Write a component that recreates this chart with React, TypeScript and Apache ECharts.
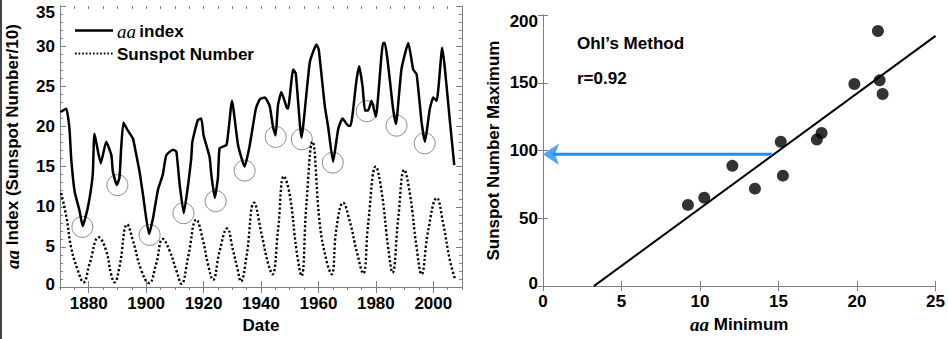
import React, { useEffect, useRef } from "react";
import * as echarts from "echarts";

// ---- Left panel: aa index and sunspot number (/10) vs year ----
const aaYears = [1870.1, 1872.2, 1873.3, 1873.9, 1875.1, 1876.8, 1877.9, 1879.7, 1881.4, 1882.0, 1884.2, 1886.1, 1887.9, 1888.4, 1889.8, 1890.7, 1891.3, 1892.1, 1893.6, 1895.4, 1896.6, 1897.7, 1898.9, 1901.0, 1902.4, 1904.1, 1905.8, 1907.0, 1909.3, 1910.5, 1911.7, 1913.1, 1914.6, 1915.7, 1916.1, 1918.0, 1919.2, 1920.0, 1922.1, 1922.7, 1923.9, 1925.0, 1925.6, 1928.0, 1929.9, 1932.0, 1934.3, 1936.1, 1938.2, 1939.6, 1941.3, 1943.0, 1944.2, 1945.1, 1945.9, 1947.1, 1948.9, 1949.4, 1951.2, 1952.1, 1954.1, 1957.0, 1959.3, 1960.1, 1962.2, 1963.4, 1965.1, 1966.9, 1968.4, 1970.4, 1971.2, 1973.3, 1974.2, 1975.4, 1976.2, 1977.3, 1978.5, 1980.0, 1982.5, 1983.1, 1986.0, 1987.0, 1988.9, 1991.3, 1993.0, 1994.2, 1995.9, 1997.1, 1998.8, 2000.0, 2001.2, 2003.1, 2005.8, 2007.3];
const aaValues = [21.8, 22.2, 19.7, 16.0, 11.9, 9.5, 7.6, 9.9, 14.0, 19.1, 15.4, 18.1, 16.4, 14.4, 12.7, 13.6, 17.3, 20.5, 19.5, 18.5, 16.4, 14.4, 11.5, 6.6, 8.6, 12.1, 14.0, 16.4, 17.1, 16.9, 12.7, 9.2, 12.7, 16.0, 18.1, 20.8, 21.0, 18.9, 16.2, 14.0, 11.1, 13.6, 17.3, 17.7, 23.2, 17.7, 15.0, 17.7, 22.2, 23.4, 23.6, 22.6, 19.9, 18.9, 22.6, 24.3, 22.4, 22.2, 27.1, 26.6, 18.6, 28.0, 30.2, 29.6, 22.6, 19.9, 15.6, 19.7, 21.0, 20.1, 20.1, 25.9, 27.5, 24.9, 22.0, 22.0, 23.2, 21.2, 30.4, 30.4, 22.2, 20.3, 27.1, 30.4, 27.1, 26.5, 20.6, 18.1, 22.2, 23.6, 23.2, 29.8, 20.6, 15.2];

const ssnYears = [1870.4, 1872.2, 1873.9, 1876.2, 1878.2, 1880.3, 1883.5, 1886.1, 1887.8, 1889.0, 1890.7, 1893.4, 1895.4, 1898.3, 1901.0, 1903.5, 1905.8, 1908.2, 1910.5, 1912.3, 1914.6, 1917.5, 1919.8, 1921.5, 1923.3, 1925.6, 1928.2, 1930.3, 1931.8, 1933.0, 1934.9, 1937.6, 1940.2, 1942.5, 1944.0, 1945.9, 1948.0, 1950.0, 1952.4, 1954.1, 1955.8, 1957.9, 1960.5, 1962.8, 1964.6, 1966.3, 1968.6, 1970.9, 1973.3, 1975.6, 1977.3, 1980.0, 1982.0, 1984.3, 1985.8, 1987.8, 1989.9, 1991.9, 1994.2, 1995.9, 1998.2, 2001.2, 2003.5, 2005.8, 2007.6];
const ssnValues = [11.7, 8.8, 4.9, 2.1, 0.6, 2.9, 6.2, 4.5, 1.6, 0.6, 2.5, 7.8, 5.8, 2.1, 0.5, 2.9, 6.0, 4.5, 2.1, 0.4, 3.7, 8.4, 5.8, 2.9, 0.9, 4.5, 7.3, 4.5, 2.3, 0.7, 3.7, 10.5, 6.6, 2.9, 1.6, 7.0, 13.8, 11.5, 4.5, 1.4, 10.3, 18.1, 7.8, 3.3, 1.6, 7.4, 10.5, 8.2, 4.5, 1.7, 7.8, 15.0, 11.9, 4.9, 1.8, 8.6, 14.6, 11.5, 4.9, 1.6, 7.0, 11.1, 7.8, 3.3, 1.0];

const minYears = [1877.8, 1890.0, 1901.2, 1913.0, 1924.2, 1934.3, 1945.1, 1954.2, 1965.0, 1976.8, 1987.2, 1997.0];
const minValues = [7.5, 12.7, 6.5, 9.2, 10.7, 14.5, 18.7, 18.4, 15.5, 21.9, 20.1, 17.9];

const yearTickLabels = [1880, 1900, 1920, 1940, 1960, 1980, 2000];
const aaTickLabels = [0, 5, 10, 15, 20, 25, 30, 35];
const legendNames = ["aa index", "Sunspot Number"];

// ---- Right panel: Ohl's method ----
const aaMinimum = [9.23, 10.27, 12.06, 13.5, 15.14, 15.28, 17.44, 17.74, 19.83, 21.33, 21.44, 21.63];
const ssnMaximum = [59.9, 65.2, 88.7, 71.9, 106.5, 81.5, 108.1, 112.9, 149.1, 188.2, 151.8, 141.7];
const fitX = [3.24, 25];
const fitY = [0, 184.6];
const predictX = [14.6, 0.6];
const predictY = [97.3, 97.3];
const arrowTip = [0, 97.3];
const correlationText = "r=0.92";
const methodText = "Ohl\u2019s Method";

const FONT = '"Liberation Sans", Arial, Helvetica, sans-serif';
const SERIF = '"Liberation Serif", "Times New Roman", serif';
const GRAY = "#808080";

export default function App() {
  const ref = useRef<HTMLDivElement>(null);
  useEffect(() => {
    if (!ref.current) return;
    const chart = echarts.init(ref.current, null, { renderer: "svg" });
    const labelBase = { fontFamily: FONT, fontWeight: "bold" as const, fontSize: 17, color: "#000" };
    const endRich = {
      lo: { ...labelBase, padding: [0, 0, 5, 0] },
      hi: { ...labelBase, padding: [12, 0, 0, 0] },
    };
    const nameRich = {
      i: { fontFamily: SERIF, fontStyle: "italic" as const, fontSize: 19, color: "#000" },
      b: { ...labelBase },
    };
    const frameLine = { show: true, lineStyle: { color: GRAY, width: 1 } };
    const yearFmt = (v: number) => String(v);

    const option: any = {
      animation: false,
      backgroundColor: "#fff",
      grid: [
        { left: 60, top: 6, width: 402, height: 284 },
        { left: 60, top: 6, width: 402, height: 284 },
        { left: 543, top: 15, width: 394, height: 278 },
      ],
      xAxis: [
        {
          gridIndex: 0, type: "value", position: "bottom", min: 1870, max: 2010,
          axisLine: frameLine, splitLine: { show: false },
          axisTick: { inside: true, length: 6, lineStyle: { color: GRAY }, customValues: yearTickLabels },
          axisLabel: { ...labelBase, margin: 8, customValues: yearTickLabels, formatter: yearFmt },
          name: "Date", nameLocation: "middle", nameGap: 26, nameTextStyle: { ...labelBase },
        },
        {
          gridIndex: 0, type: "value", position: "top", min: 1870, max: 2010,
          axisLine: frameLine, splitLine: { show: false },
          axisTick: { inside: true, length: 6, lineStyle: { color: GRAY }, customValues: yearTickLabels },
          axisLabel: { show: false },
        },
        {
          gridIndex: 1, type: "value", position: "bottom", min: 1870, max: 2010, interval: 5,
          axisLine: { show: false }, splitLine: { show: false },
          axisTick: { inside: true, length: 3, lineStyle: { color: GRAY } },
          axisLabel: { show: false },
        },
        {
          gridIndex: 1, type: "value", position: "top", min: 1870, max: 2010, interval: 5,
          axisLine: { show: false }, splitLine: { show: false },
          axisTick: { inside: true, length: 3, lineStyle: { color: GRAY } },
          axisLabel: { show: false },
        },
        {
          gridIndex: 2, type: "value", position: "bottom", min: 0, max: 25, interval: 5,
          axisLine: frameLine, splitLine: { show: false },
          axisTick: { inside: true, length: 5, lineStyle: { color: GRAY } },
          axisLabel: { ...labelBase, margin: 7 },
          name: "{i|aa} {b|Minimum}", nameLocation: "middle", nameGap: 25,
          nameTextStyle: { ...labelBase, rich: nameRich },
        },
        {
          gridIndex: 2, type: "value", position: "top", min: 0, max: 25, interval: 5,
          axisLine: frameLine, splitLine: { show: false },
          axisTick: { inside: true, length: 5, lineStyle: { color: GRAY } },
          axisLabel: { show: false },
        },
      ],
      yAxis: [
        {
          gridIndex: 0, type: "value", position: "left", min: 0, max: 35, interval: 5,
          axisLine: frameLine, splitLine: { show: false },
          axisTick: { inside: true, length: 6, lineStyle: { color: GRAY } },
          minorTick: { show: true, splitNumber: 5, length: 3, lineStyle: { color: GRAY } },
          minorSplitLine: { show: false },
          axisLabel: {
            ...labelBase, margin: 5,
            formatter: (v: number) => (v === aaTickLabels[0] ? `{lo|${v}}` : v === aaTickLabels[aaTickLabels.length - 1] ? `{hi|${v}}` : `${v}`),
            rich: endRich,
          },
          name: "{i|aa} {b|Index (Sunspot Number/10)}", nameLocation: "middle", nameGap: 38,
          nameTextStyle: { ...labelBase, rich: nameRich },
        },
        {
          gridIndex: 0, type: "value", position: "right", min: 0, max: 35, interval: 5,
          axisLine: frameLine, splitLine: { show: false },
          axisTick: { inside: true, length: 6, lineStyle: { color: GRAY } },
          minorTick: { show: true, splitNumber: 5, length: 3, lineStyle: { color: GRAY } },
          axisLabel: { show: false },
        },
        { gridIndex: 1, type: "value", min: 0, max: 35, show: false },
        {
          gridIndex: 2, type: "value", position: "left", min: 0, max: 200, interval: 50,
          axisLine: frameLine, splitLine: { show: false },
          axisTick: { inside: true, length: 5, lineStyle: { color: GRAY } },
          axisLabel: {
            ...labelBase, margin: 5,
            formatter: (v: number) => (v === 0 ? `{lo|${v}}` : v === 200 ? `{hi|${v}}` : `${v}`),
            rich: endRich,
          },
          name: "Sunspot Number Maximum", nameLocation: "middle", nameGap: 41,
          nameTextStyle: { ...labelBase },
        },
        {
          gridIndex: 2, type: "value", position: "right", min: 0, max: 200, interval: 50,
          axisLine: frameLine, splitLine: { show: false },
          axisTick: { inside: true, length: 5, lineStyle: { color: GRAY } },
          axisLabel: { show: false },
        },
      ],
      series: [
        {
          name: legendNames[0], type: "line", xAxisIndex: 0, yAxisIndex: 0,
          data: aaYears.map((y, i) => [y, aaValues[i]]),
          symbol: "none", smooth: 0.15,
          lineStyle: { color: "#000", width: 2.5 },
        },
        {
          name: legendNames[1], type: "line", xAxisIndex: 0, yAxisIndex: 0,
          data: ssnYears.map((y, i) => [y, ssnValues[i]]),
          symbol: "none", smooth: 0.45,
          lineStyle: { color: "#000", width: 2.4, type: [2.2, 2.2] },
        },
        {
          name: "minima", type: "scatter", xAxisIndex: 0, yAxisIndex: 0,
          data: minYears.map((y, i) => [y, minValues[i]]),
          symbol: "circle", symbolSize: 21,
          itemStyle: { color: "rgba(0,0,0,0)", borderColor: "#707070", borderWidth: 1 },
          z: 1,
        },
        {
          name: "fit", type: "line", xAxisIndex: 4, yAxisIndex: 3,
          data: fitX.map((x, i) => [x, fitY[i]]),
          symbol: "none", lineStyle: { color: "#000", width: 2 },
        },
        {
          name: "prediction", type: "line", xAxisIndex: 4, yAxisIndex: 3,
          data: predictX.map((x, i) => [x, predictY[i]]),
          symbol: "none", lineStyle: { color: "#1E8CFF", width: 3 },
        },
        {
          name: "arrowhead", type: "scatter", xAxisIndex: 4, yAxisIndex: 3,
          data: [arrowTip], clip: false,
          symbol: "arrow", symbolRotate: 90, symbolSize: [16, 16],
          itemStyle: { color: "#1E8CFF" },
        },
        {
          name: "cycles", type: "scatter", xAxisIndex: 4, yAxisIndex: 3,
          data: aaMinimum.map((x, i) => [x, ssnMaximum[i]]),
          symbol: "circle", symbolSize: 12, itemStyle: { color: "#000" },
        },
      ],
      graphic: [
        { type: "line", shape: { x1: 1, y1: 0, x2: 1, y2: 339 }, style: { stroke: "#444", lineWidth: 2 } },
        // legend
        { type: "line", shape: { x1: 75, y1: 30.5, x2: 113, y2: 30.5 }, style: { stroke: "#000", lineWidth: 2.5 } },
        {
          type: "text", x: 117, y: 31,
          style: { text: "{i|aa} {b|index}", rich: nameRich, verticalAlign: "middle", align: "left" },
        },
        { type: "line", shape: { x1: 75, y1: 53.5, x2: 113, y2: 53.5 }, style: { stroke: "#000", lineWidth: 1.8, lineDash: [1.6, 2] } },
        {
          type: "text", x: 117, y: 54,
          style: { text: legendNames[1], font: `bold 17px ${FONT}`, fill: "#000", verticalAlign: "middle", align: "left" },
        },
        { type: "text", left: 577, top: 35, style: { text: methodText, font: `bold 17px ${FONT}`, fill: "#000" } },
        { type: "text", left: 577, top: 70, style: { text: correlationText, font: `bold 17px ${FONT}`, fill: "#000" } },
      ],
    };
    chart.setOption(option);
    return () => chart.dispose();
  }, []);
  return <div ref={ref} style={{ position: "absolute", left: 0, top: 0, width: 948, height: 339 }} />;
}
